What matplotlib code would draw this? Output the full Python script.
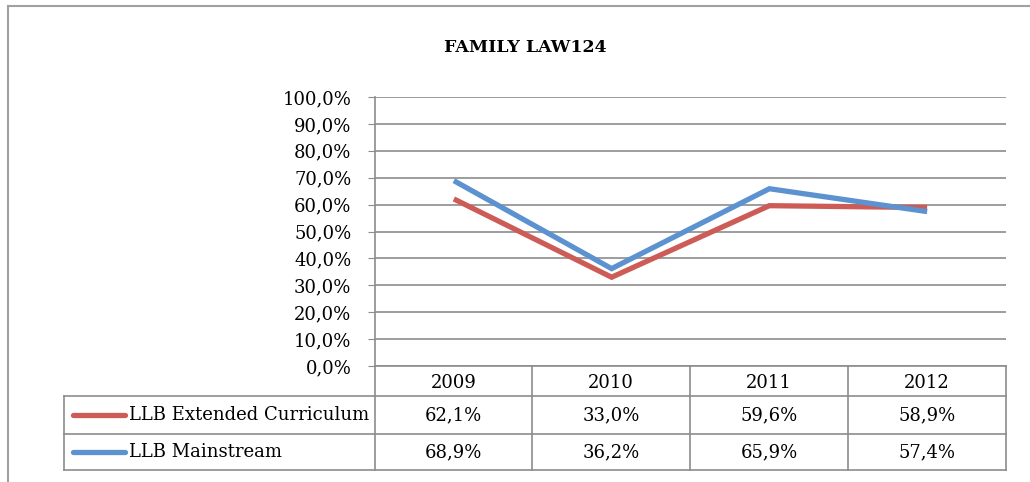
import matplotlib
matplotlib.use("Agg")
import matplotlib.pyplot as plt
from matplotlib.lines import Line2D
from matplotlib.patches import Rectangle

years = ["2009", "2010", "2011", "2012"]
extended = [62.1, 33.0, 59.6, 58.9]
mainstream = [68.9, 36.2, 65.9, 57.4]
series_names = ["LLB Extended Curriculum", "LLB Mainstream"]
series_colors = ["#CD5C57", "#5B92CF"]
title = "FAMILY LAW124"

W, H = 1030, 482
FONT = "DejaVu Serif"
FS = 13
GRID = "#8C8C8C"

fig = plt.figure(figsize=(W / 100, H / 100), dpi=100)


def fx(px):
    return px / W


def fy(py):
    return 1 - py / H


# outer chart frame (runs off the right and bottom edges)
fig.patches.append(Rectangle((fx(8), fy(520)), fx(1100), fy(6) - fy(520),
                             transform=fig.transFigure, fill=False,
                             edgecolor="#A0A0A0", lw=1.5))

fig.text(fx(525), fy(47), title, ha="center", va="center",
         fontsize=12.5, fontweight="bold", family=FONT)

# plot area
left, right, top, bottom = 375, 1006, 97, 366
ax = fig.add_axes([fx(left), fy(bottom), fx(right) - fx(left), fy(top) - fy(bottom)])
ax.set_xlim(-0.5, len(years) - 0.5)
ax.set_ylim(0, 100)
ax.set_yticks(range(0, 101, 10))
ax.set_yticklabels([f"{v},0%" for v in range(0, 101, 10)], family=FONT, fontsize=FS)
ax.set_xticks([])
ax.grid(axis="y", color=GRID, lw=1.2)
ax.tick_params(axis="y", length=5, color=GRID, pad=12)
for s in ["top", "right", "bottom"]:
    ax.spines[s].set_visible(False)
ax.spines["left"].set_color(GRID)
ax.spines["left"].set_linewidth(1.2)
ax.set_axisbelow(True)

x = range(len(years))
for vals, c in zip([extended, mainstream], series_colors):
    ax.plot(x, vals, color=c, lw=3.8, solid_capstyle="butt", solid_joinstyle="miter")

# data table below
col_edges = [375, 532, 690, 848, 1006]
row_edges = [366, 396, 434, 470]
legend_left = 64


def hline(y, x0, x1):
    fig.lines.append(Line2D([fx(x0), fx(x1)], [fy(y), fy(y)], transform=fig.transFigure,
                            color=GRID, lw=1.2))


def vline(xp, y0, y1):
    fig.lines.append(Line2D([fx(xp), fx(xp)], [fy(y0), fy(y1)], transform=fig.transFigure,
                            color=GRID, lw=1.2))


hline(row_edges[1], legend_left, col_edges[-1])
hline(row_edges[2], legend_left, col_edges[-1])
hline(row_edges[3], legend_left, col_edges[-1])
hline(row_edges[0], col_edges[0], col_edges[-1])
vline(legend_left, row_edges[1], row_edges[3])
for xe in col_edges:
    vline(xe, row_edges[0], row_edges[3])

for i, yr in enumerate(years):
    xc = (col_edges[i] + col_edges[i + 1]) / 2
    fig.text(fx(xc), fy((row_edges[0] + row_edges[1]) / 2 + 2), yr, ha="center", va="center",
             family=FONT, fontsize=FS)

for r, (name, vals, c) in enumerate(zip(series_names, [extended, mainstream], series_colors)):
    yc = (row_edges[r + 1] + row_edges[r + 2]) / 2
    fig.lines.append(Line2D([fx(73), fx(125)], [fy(yc), fy(yc)], transform=fig.transFigure,
                            color=c, lw=3.8, solid_capstyle="round"))
    fig.text(fx(129), fy(yc), name, ha="left", va="center", family=FONT, fontsize=FS)
    for i, v in enumerate(vals):
        xc = (col_edges[i] + col_edges[i + 1]) / 2
        fig.text(fx(xc), fy(yc), f"{v:.1f}%".replace(".", ","), ha="center", va="center",
                 family=FONT, fontsize=FS)

fig.savefig("out.png", dpi=100)
